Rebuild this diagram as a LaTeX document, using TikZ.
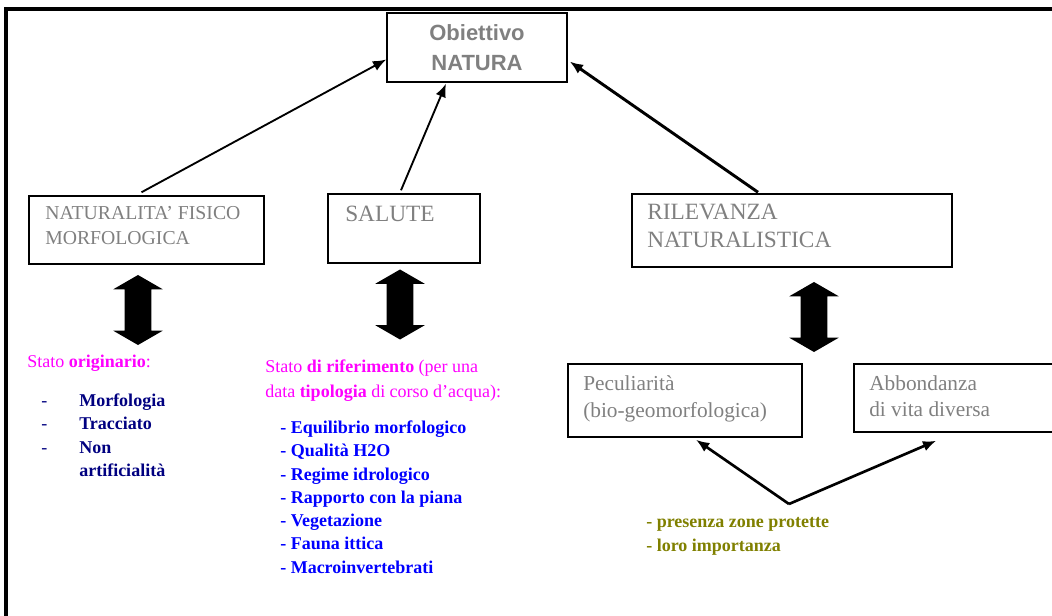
\documentclass[tikz,border=0pt]{standalone}
\usepackage{fontspec}
\setmainfont{Liberation Serif}
\newfontfamily\headfont{Liberation Sans}
\usetikzlibrary{arrows.meta,calc,fit,shapes.arrows}

\definecolor{boxgray}{HTML}{808080}
\definecolor{magentaT}{HTML}{FF00FF}
\definecolor{navyT}{HTML}{000080}
\definecolor{blueT}{HTML}{0000FF}
\definecolor{oliveT}{HTML}{808000}

\tikzset{
  box/.style={draw, line width=1.1pt, inner sep=0pt},
  boxtext/.style={text=boxgray, anchor=west, inner sep=0pt, text height=.66em, text depth=0pt},
  listtext/.style={anchor=west, inner sep=0pt, text height=.66em, text depth=0pt,
    font=\fontsize{13.5}{16}\selectfont},
  link/.style={-{Latex[length=10pt,width=8pt]}, line width=1.4pt},
  bigarrow/.style={double arrow, fill=black, shape border rotate=90, inner sep=9.75pt,
    minimum height=52.5pt, minimum width=36.75pt, double arrow head extend=8.6pt,
    double arrow tip angle=120}
}

\begin{document}
\begin{tikzpicture}[x=0.75pt, y=-0.75pt]
  \useasboundingbox (0,0) rectangle (1052,616);
  % frame
  \draw[line width=2.4pt] (6,616) -- (6,9) -- (1052,9);

  % top box
  \node[box, minimum width=135pt, minimum height=51.75pt, align=center, text=boxgray,
    font=\headfont\bfseries\fontsize{16.5}{22.5}\selectfont] (obj) at (477,47.5) {Obiettivo\\NATURA};

  % second row
  \node[box, fit={(29,196) (264,264)}] (nat) {};
  \node[box, fit={(328,194) (480,263)}] (sal) {};
  \node[box, fit={(632,194) (952,267)}] (ril) {};
  \node[boxtext, font=\fontsize{14.8}{17}\selectfont] (natA) at (45,215) {NATURALITA' FISICO};
  \node[boxtext, font=\fontsize{14.8}{17}\selectfont] (natB) at (45,240) {MORFOLOGICA};
  \node[boxtext, font=\fontsize{17.5}{20}\selectfont] (salA) at (345,217) {SALUTE};
  \node[boxtext, font=\fontsize{17.5}{20}\selectfont] (rilA) at (647,215) {RILEVANZA};
  \node[boxtext, font=\fontsize{17.5}{20}\selectfont] (rilB) at (647,243) {NATURALISTICA};

  \draw[link] ($(nat.north)+(-5,-3)$) -- ($(obj.west)+(0,12)$);
  \draw[link] ($(sal.north)+(-3,-3)$) -- ($(obj.south)+(-31,1)$);
  \draw[link, line width=2.2pt] ($(ril.north)+(-34,-1)$) -- ($(obj.east)+(2,14)$);

  % block arrows
  \node[bigarrow] (dblNat) at (138,310) {};
  \node[bigarrow] (dblSal) at (400,304.5) {};
  \node[bigarrow] (dblRil) at (814,317) {};

  % left column
  \node[listtext, text=magentaT] (orig) at (27,363) {Stato \textbf{originario}:};
  \foreach \d/\t [count=\i from 0] in {-/Morfologia, -/Tracciato, -/Non, {}/artificialità}
    \node[listtext, text=navyT] (natL\i) at (41,402+23.3*\i)
      {\makebox[28.5pt][l]{\d}\textbf{\t}};

  % middle column
  \node[listtext, text=magentaT] (rifA) at (265,368) {Stato \textbf{di riferimento} (per una};
  \node[listtext, text=magentaT] (rifB) at (265,393) {data \textbf{tipologia} di corso d'acqua):};
  \foreach \t [count=\i from 0] in {Equilibrio morfologico, Qualità H2O, Regime idrologico,
      Rapporto con la piana, Vegetazione, Fauna ittica, Macroinvertebrati}
    \node[listtext, text=blueT] (salL\i) at (280,429+23.3*\i) {\textbf{- \t}};

  % right column
  \node[box, fit={(568,364) (802,437)}] (pec) {};
  \node[box, fit={(854,364) (1062,432)}] (abb) {};
  \node[boxtext, font=\fontsize{16}{19}\selectfont] (pecA) at (583,386) {Peculiarità};
  \node[boxtext, font=\fontsize{16}{19}\selectfont] (pecB) at (583,413) {(bio-geomorfologica)};
  \node[boxtext, font=\fontsize{16}{19}\selectfont] (abbA) at (869,386) {Abbondanza};
  \node[boxtext, font=\fontsize{16}{19}\selectfont] (abbB) at (869,412) {di vita diversa};

  \coordinate (src) at (789,504);
  \draw[link, line width=2pt] (src) -- ($(pec.south)+(11,2)$);
  \draw[link, line width=2pt] (src) -- ($(abb.south west)+(83,8)$);
  \node[listtext, text=oliveT] (zoneA) at (646,523) {\textbf{- presenza zone protette}};
  \node[listtext, text=oliveT] (zoneB) at (646,547) {\textbf{- loro importanza}};
\end{tikzpicture}
\end{document}
